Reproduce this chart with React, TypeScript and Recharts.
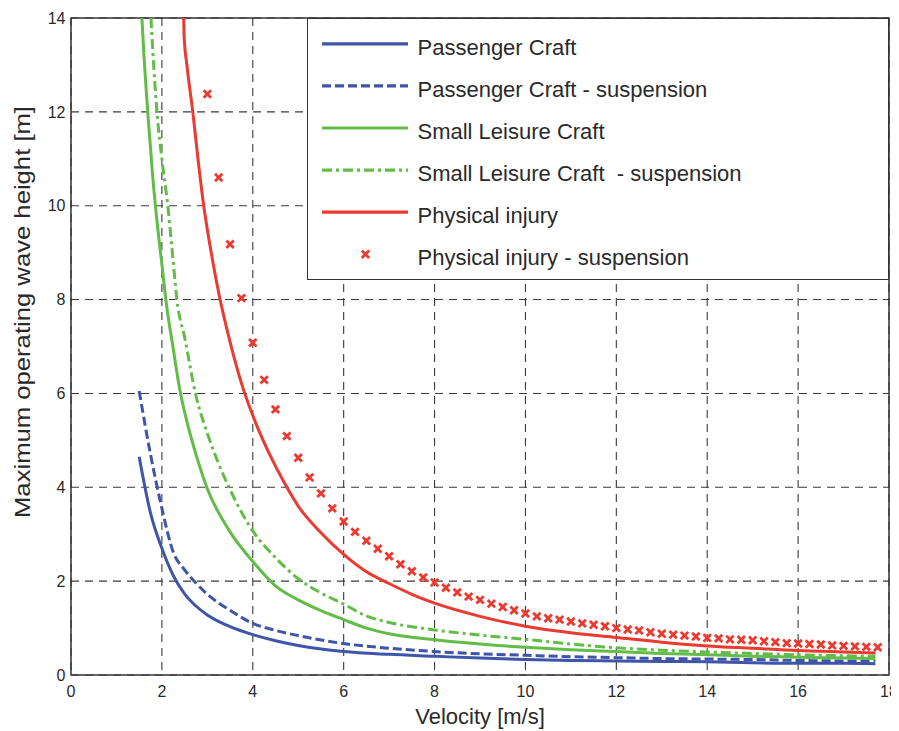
import React from 'react';
import {
  ComposedChart,
  Line,
  Scatter,
  XAxis,
  YAxis,
  CartesianGrid,
  ReferenceArea,
  Legend,
} from 'recharts';

// ---------- data ----------
const xTicks = [0, 2, 4, 6, 8, 10, 12, 14, 16, 18];
const yTicks = [0, 2, 4, 6, 8, 10, 12, 14];

const passengerV = [1.5, 1.75, 2, 2.25, 2.5, 2.75, 3, 3.5, 4, 4.5, 5, 6, 7, 8, 9, 10, 11, 12, 13, 14, 15, 16, 17, 17.7];
const passengerH = [4.65, 3.45, 2.7, 2.12, 1.73, 1.47, 1.28, 1.03, 0.86, 0.73, 0.63, 0.5, 0.44, 0.4, 0.36, 0.33, 0.31, 0.3, 0.29, 0.28, 0.26, 0.25, 0.25, 0.24];

const passengerSuspV = [1.5, 1.75, 2, 2.25, 2.5, 2.75, 3, 3.5, 4, 4.5, 5, 6, 7, 8, 9, 10, 11, 12, 13, 14, 15, 16, 17, 17.7];
const passengerSuspH = [6.05, 4.7, 3.55, 2.62, 2.24, 1.96, 1.72, 1.38, 1.1, 0.95, 0.84, 0.67, 0.57, 0.5, 0.45, 0.42, 0.39, 0.37, 0.35, 0.34, 0.33, 0.31, 0.3, 0.3];

const leisureV = [1.56, 1.6, 1.7, 1.8, 1.9, 2, 2.1, 2.25, 2.4, 2.5, 2.75, 3, 3.5, 4, 4.5, 5, 5.5, 6, 6.5, 7, 8, 9, 10, 11, 12, 13, 14, 15, 16, 17, 17.7];
const leisureH = [14, 13.3, 11.85, 10.6, 9.6, 8.75, 7.9, 6.95, 6.05, 5.6, 4.7, 3.97, 3.05, 2.42, 1.9, 1.6, 1.37, 1.18, 1.0, 0.88, 0.75, 0.66, 0.59, 0.54, 0.5, 0.46, 0.43, 0.4, 0.38, 0.36, 0.35];

const leisureSuspV = [1.76, 1.8, 1.9, 2, 2.13, 2.25, 2.33, 2.5, 2.75, 3, 3.25, 3.5, 4, 4.5, 5, 5.5, 6, 6.5, 7, 8, 9, 10, 11, 12, 13, 14, 15, 16, 17, 17.7];
const leisureSuspH = [14, 13.3, 11.9, 11.0, 10.0, 8.8, 8.0, 7.2, 5.95, 5.15, 4.5, 3.95, 3.07, 2.5, 2.05, 1.75, 1.51, 1.26, 1.12, 0.96, 0.85, 0.76, 0.66, 0.58, 0.53, 0.49, 0.46, 0.43, 0.41, 0.4];

const injuryV = [2.48, 2.49, 2.55, 2.68, 2.8, 2.92, 3.05, 3.27, 3.5, 3.75, 4, 4.25, 4.5, 4.75, 5, 5.5, 6, 6.5, 7, 7.5, 8, 9, 10, 11, 12, 13, 14, 15, 16, 17, 17.7];
const injuryH = [14, 13.6, 13.0, 12.0, 10.95, 10.0, 9.2, 8.05, 7.1, 6.22, 5.53, 4.95, 4.45, 4.0, 3.6, 3.03, 2.57, 2.2, 1.95, 1.72, 1.53, 1.25, 1.04, 0.9, 0.8, 0.7, 0.62, 0.57, 0.52, 0.49, 0.47];

const injurySuspV = [
  3, 3.25, 3.5, 3.75, 4, 4.25, 4.5, 4.75, 5, 5.25, 5.5, 5.75, 6, 6.25, 6.5, 6.75, 7, 7.25, 7.5, 7.75,
  8, 8.25, 8.5, 8.75, 9, 9.25, 9.5, 9.75, 10, 10.25, 10.5, 10.75, 11, 11.25, 11.5, 11.75, 12, 12.25, 12.5, 12.75,
  13, 13.25, 13.5, 13.75, 14, 14.25, 14.5, 14.75, 15, 15.25, 15.5, 15.75, 16, 16.25, 16.5, 16.75, 17, 17.25, 17.5, 17.75,
];
const injurySuspH = [
  12.38, 10.6, 9.18, 8.03, 7.08, 6.29, 5.66, 5.09, 4.63, 4.21, 3.87, 3.55, 3.27, 3.05, 2.86, 2.69, 2.53, 2.36, 2.21, 2.08,
  1.97, 1.86, 1.76, 1.67, 1.6, 1.52, 1.45, 1.38, 1.31, 1.25, 1.21, 1.18, 1.14, 1.1, 1.07, 1.04, 1.0, 0.97, 0.95, 0.91,
  0.88, 0.86, 0.84, 0.82, 0.79, 0.78, 0.76, 0.75, 0.74, 0.72, 0.7, 0.68, 0.67, 0.66, 0.65, 0.63, 0.62, 0.61, 0.6, 0.59,
];

const seriesNames = [
  'Passenger Craft',
  'Passenger Craft - suspension',
  'Small Leisure Craft',
  'Small Leisure Craft\u00A0 - suspension',
  'Physical injury',
  'Physical injury - suspension',
];

const xLabel = 'Velocity [m/s]';
const yLabel = 'Maximum operating wave height [m]';

const zip = (vs: number[], hs: number[]) => vs.map((v, i) => ({ v, h: hs[i] }));

// ---------- styles ----------
const FONT = '"Liberation Sans", Arial, Helvetica, sans-serif';
const TEXT = '#2a2a2a';
const BLUE = '#3F55A8';
const GREEN = '#62BC47';
const RED = '#EC3A30';
const LW = 3;

const W = 891;
const H = 723;

const Cross = (props: any) => {
  const { cx, cy } = props;
  if (cx == null || cy == null) return null;
  const r = 3.7;
  return (
    <g>
      <line x1={cx - r} y1={cy - r} x2={cx + r} y2={cy + r} stroke={RED} strokeWidth={2.8} />
      <line x1={cx - r} y1={cy + r} x2={cx + r} y2={cy - r} stroke={RED} strokeWidth={2.8} />
    </g>
  );
};

const XTick = (props: any) => {
  const { x, y, payload } = props;
  return (
    <text x={x} y={y + 21.7} textAnchor="middle" fontSize={16} fill={TEXT} fontFamily={FONT}>
      {payload.value}
    </text>
  );
};

const legendStyles = [
  { color: BLUE, dash: undefined as string | undefined, marker: false },
  { color: BLUE, dash: '9 4', marker: false },
  { color: GREEN, dash: undefined, marker: false },
  { color: GREEN, dash: '10 4 3 4', marker: false },
  { color: RED, dash: undefined, marker: false },
  { color: RED, dash: undefined, marker: true },
];

const renderLegend = () => (
  <div
    style={{
      width: '100%',
      height: '100%',
      boxSizing: 'border-box',
      border: '1.5px solid #333',
      background: '#ffffff',
    }}
  >
    <svg width={578} height={259} style={{ display: 'block' }}>
      {seriesNames.map((name, i) => {
        const cy = 24.8 + 42.1 * i;
        const st = legendStyles[i];
        return (
          <g key={name}>
            {st.marker ? (
              <Cross cx={57.5} cy={cy} />
            ) : (
              <line x1={14} x2={100} y1={cy} y2={cy} stroke={st.color} strokeWidth={3.2} strokeDasharray={st.dash} />
            )}
            <text x={109.5} y={cy + 10.7} fontSize={22} fill={TEXT} fontFamily={FONT}>
              {name}
            </text>
          </g>
        );
      })}
    </svg>
  </div>
);

const YLabel = (props: any) => {
  const vb = props.viewBox || {};
  const cx = (vb.x ?? 0) + 14.5;
  const cy = 304;
  return (
    <text
      x={cx}
      y={cy}
      transform={`rotate(-90, ${cx}, ${cy})`}
      textAnchor="middle"
      dominantBaseline="central"
      fontSize={22}
      textLength={412}
      lengthAdjust="spacingAndGlyphs"
      fill={TEXT}
      fontFamily={FONT}
    >
      {yLabel}
    </text>
  );
};

export default function App() {
  return (
    <div style={{ width: W, height: H, overflow: 'visible' }}>
      <style>{'html{overflow:hidden} .recharts-wrapper,.recharts-surface{overflow:visible !important}'}</style>
      <ComposedChart
        width={W}
        height={H}
        margin={{ top: 10, right: 10, bottom: 0, left: 0 }}
        style={{ overflow: 'visible' }}
      >
        <CartesianGrid stroke="#3a3a3a" strokeWidth={1.1} strokeDasharray="8 6" />
        <XAxis
          type="number"
          dataKey="v"
          domain={[0, 18]}
          ticks={xTicks}
          allowDataOverflow
          interval={0}
          height={56}
          tickLine={false}
          axisLine={false}
          tickSize={0}
          tickMargin={0}
          tick={<XTick />}
          label={{
            value: xLabel,
            position: 'insideBottom',
            offset: 7,
            style: { fontSize: 22, fill: TEXT, fontFamily: FONT },
          }}
        />
        <YAxis
          type="number"
          dataKey="h"
          domain={[0, 14]}
          ticks={yTicks}
          allowDataOverflow
          interval={0}
          width={63}
          tickLine={false}
          axisLine={false}
          tickSize={5}
          tickMargin={0.5}
          tick={{ fill: TEXT, fontSize: 16, fontFamily: FONT }}
          label={{ content: <YLabel /> } as any}
        />
        <ReferenceArea x1={0} x2={18} y1={0} y2={14} fill="none" stroke="#333" strokeWidth={1.5} ifOverflow="visible" />
        <Line data={zip(passengerV, passengerH)} dataKey="h" name={seriesNames[0]} type="monotone" stroke={BLUE} strokeWidth={LW} dot={false} isAnimationActive={false} />
        <Line data={zip(passengerSuspV, passengerSuspH)} dataKey="h" name={seriesNames[1]} type="monotone" stroke={BLUE} strokeWidth={LW} strokeDasharray="9 4" dot={false} isAnimationActive={false} />
        <Line data={zip(leisureV, leisureH)} dataKey="h" name={seriesNames[2]} type="monotone" stroke={GREEN} strokeWidth={LW} dot={false} isAnimationActive={false} />
        <Line data={zip(leisureSuspV, leisureSuspH)} dataKey="h" name={seriesNames[3]} type="monotone" stroke={GREEN} strokeWidth={LW} strokeDasharray="10 4 3 4" dot={false} isAnimationActive={false} />
        <Line data={zip(injuryV, injuryH)} dataKey="h" name={seriesNames[4]} type="monotone" stroke={RED} strokeWidth={LW} dot={false} isAnimationActive={false} />
        <Scatter data={zip(injurySuspV, injurySuspH)} dataKey="h" name={seriesNames[5]} fill={RED} shape={<Cross />} isAnimationActive={false} />
        <Legend
          layout="vertical"
          align="center"
          verticalAlign="middle"
          content={renderLegend}
          wrapperStyle={{ position: 'absolute', left: 299.3, top: 9.5, width: 581.7, height: 262.5 }}
        />
      </ComposedChart>
    </div>
  );
}
